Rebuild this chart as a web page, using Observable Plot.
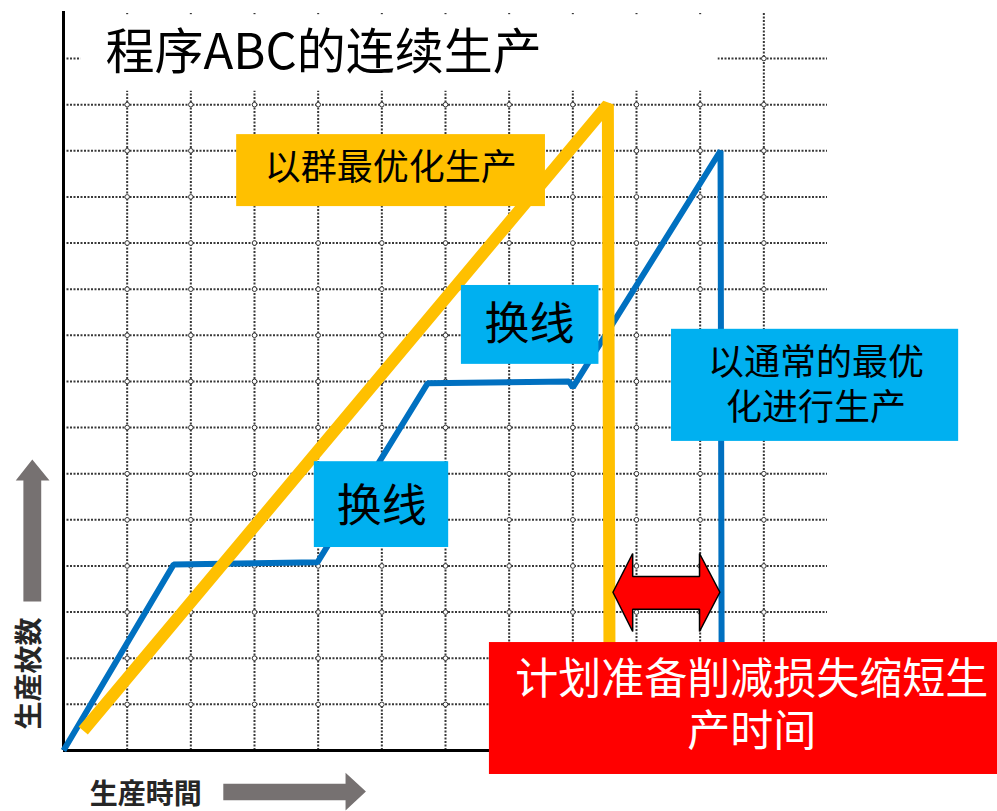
<!DOCTYPE html>
<html>
<head>
<meta charset="utf-8">
<script src="https://cdn.jsdelivr.net/npm/d3@7"></script>
<script src="https://cdn.jsdelivr.net/npm/@observablehq/plot@0.6"></script>
<style>
  html, body { margin: 0; padding: 0; background: #fff; }
  svg { display: block; }
</style>
</head>
<body>
<div id="chart"></div>
<script>
// ---- data (grid units: x = time cells, y = quantity cells) ----
const gridX = [1, 2, 3, 4, 5, 6, 7, 8, 9, 10, 11];
const gridY = [1, 2, 3, 4, 5, 6, 7, 8, 9, 10, 11, 12, 13, 14, 15];

// normal production (blue), with two changeovers
const blueX = [0, 1.73, 3.99, 5.72, 7.94, 8.0, 10.32, 10.34];
const blueY = [0, 4.03, 4.08, 7.96, 8.0, 7.87, 13.0, 0];

// group-optimised production (orange)
const orangeX = [0.31, 8.55, 8.58];
const orangeY = [0.43, 14.0, 0];

// annotation boxes
const boxNames  = ["title", "group", "change1", "change2", "normal", "red"];
const boxX1 = [0.27, 2.72, 6.25, 3.94, 9.55, 6.69];
const boxX2 = [10.28, 7.57, 8.41, 6.05, 14.06, 14.68];
const boxY1 = [14.29, 11.79, 8.37, 4.40, 6.70, -0.52];
const boxY2 = [15.95, 13.35, 10.08, 6.26, 9.13, 2.34];
const boxFill = ["#ffffff", "#FFC000", "#00B0F0", "#00B0F0", "#00B0F0", "#FF0000"];

// labels
const labelText = ["程序ABC的连续生产", "以群最优化生产", "换线", "换线",
                   "以通常的最优\n化进行生产", "计划准备削减损失缩短生\n产时间"];
const labelX = [0.66, 5.14, 7.32, 5.0, 11.82, 10.81];
const labelY = [15.11, 12.62, 9.21, 5.27, 7.965, 1.02];
const labelSize = [49, 36, 45, 45, 36, 43];
const labelFill = ["#000", "#000", "#000", "#000", "#000", "#fff"];
const labelAnchor = ["start", "middle", "middle", "middle", "middle", "middle"];
const labelLineHeight = [1, 1, 1, 1, 1.25, 1.2];

// red double arrow polygon
const arrowX = [8.63, 8.94, 8.94, 9.99, 9.99, 10.31, 9.99, 9.99, 8.94, 8.94, 8.63];
const arrowY = [3.43, 4.27, 3.77, 3.77, 4.27, 3.43, 2.58, 3.06, 3.06, 2.58, 3.43];

// axis-title arrows (gray)
const yArrowX = [-0.63, -0.63, -0.75, -0.49, -0.22, -0.35, -0.35];
const yArrowY = [3.23, 5.85, 5.85, 6.31, 5.85, 5.85, 3.23];
const xArrowX = [2.51, 4.43, 4.43, 4.75, 4.43, 4.43, 2.51];
const xArrowY = [-0.72, -0.72, -0.48, -0.89, -1.30, -1.08, -1.08];

const axisTitles = ["生産枚数", "生産時間"];
const axisTitleX = [-0.52, 1.29];
const axisTitleY = [1.67, -0.97];
const axisTitleRotate = [-90, 0];

// ---- build tables ----
const blue = blueX.map((x, i) => ({x, y: blueY[i]}));
const orange = orangeX.map((x, i) => ({x, y: orangeY[i]}));
const boxes = boxNames.map((n, i) => ({n, x1: boxX1[i], x2: boxX2[i], y1: boxY1[i], y2: boxY2[i], fill: boxFill[i]}));
const titleBox = boxes.filter(d => d.n === "title");
const otherBoxes = boxes.filter(d => d.n !== "title");
const labels = labelText.map((t, i) => ({t, x: labelX[i], y: labelY[i], s: labelSize[i], f: labelFill[i], a: labelAnchor[i], lh: labelLineHeight[i]}));
const arrow = arrowX.map((x, i) => ({x, y: arrowY[i]}));
const yArrow = yArrowX.map((x, i) => ({x, y: yArrowY[i]}));
const xArrow = xArrowX.map((x, i) => ({x, y: xArrowY[i]}));
const cross = gridX.flatMap(x => gridY.map(y => ({x, y})));
const axisT = axisTitles.map((t, i) => ({t, x: axisTitleX[i], y: axisTitleY[i], r: axisTitleRotate[i]}));

const CJK = '"Noto Sans CJK SC", "Noto Sans", sans-serif';
const CJKJP = '"Noto Sans CJK JP", "Noto Sans CJK SC", sans-serif';
const gridColor = "#383838";
const dash = "2,1.5";

const textMarks = labels.map(d =>
  Plot.text([d], {
    x: "x", y: "y", text: "t", fill: "f", fontSize: d.s,
    textAnchor: d.a, lineAnchor: "middle", lineHeight: d.lh, fontFamily: CJK
  })
);

const chart = Plot.plot({
  width: 997,
  height: 811,
  marginLeft: 63,
  marginRight: 170,
  marginTop: 58,
  marginBottom: 61,
  x: {domain: [0, 12], axis: null},
  y: {domain: [0, 15], axis: null},
  style: {background: "#fff", overflow: "visible"},
  marks: [
    // dotted grid
    Plot.ruleX(gridX, {x: d => d, y1: 0, y2: 16, stroke: gridColor, strokeWidth: 2, strokeDasharray: dash}),
    Plot.ruleY(gridY, {y: d => d, x1: 0, x2: 12, stroke: gridColor, strokeWidth: 2, strokeDasharray: dash}),
    Plot.dot(cross, {x: "x", y: "y", r: 2.3, stroke: gridColor, strokeWidth: 1, fill: "#fff"}),
    // white area behind title
    Plot.rect(titleBox, {x1: "x1", x2: "x2", y1: "y1", y2: "y2", fill: "fill"}),
    // axes
    Plot.ruleX([0], {y1: 0, y2: 16.02, stroke: "#000", strokeWidth: 3}),
    Plot.ruleY([0], {x1: 0, x2: 12, stroke: "#000", strokeWidth: 3}),
    // series
    Plot.line(blue, {x: "x", y: "y", stroke: "#0070C0", strokeWidth: 6, strokeLinejoin: "miter", strokeLinecap: "butt"}),
    Plot.line(orange, {x: "x", y: "y", stroke: "#FFC000", strokeWidth: 12, strokeLinejoin: "bevel", strokeLinecap: "butt"}),
    // red double arrow
    Plot.line(arrow, {x: "x", y: "y", fill: "#FF0000", stroke: "#000", strokeWidth: 1.5, strokeLinejoin: "miter"}),
    // annotation boxes
    Plot.rect(otherBoxes, {x1: "x1", x2: "x2", y1: "y1", y2: "y2", fill: "fill"}),
    ...textMarks,
    // axis-title arrows and titles
    Plot.line(yArrow, {x: "x", y: "y", fill: "#767171", stroke: "none"}),
    Plot.line(xArrow, {x: "x", y: "y", fill: "#767171", stroke: "none"}),
    Plot.text(axisT, {x: "x", y: "y", text: "t", rotate: "r", fontSize: 28, fontWeight: "bold",
      fill: "#262626", fontFamily: CJKJP, lineAnchor: "middle", textAnchor: "middle"})
  ]
});
document.getElementById("chart").appendChild(chart);
</script>
</body>
</html>
